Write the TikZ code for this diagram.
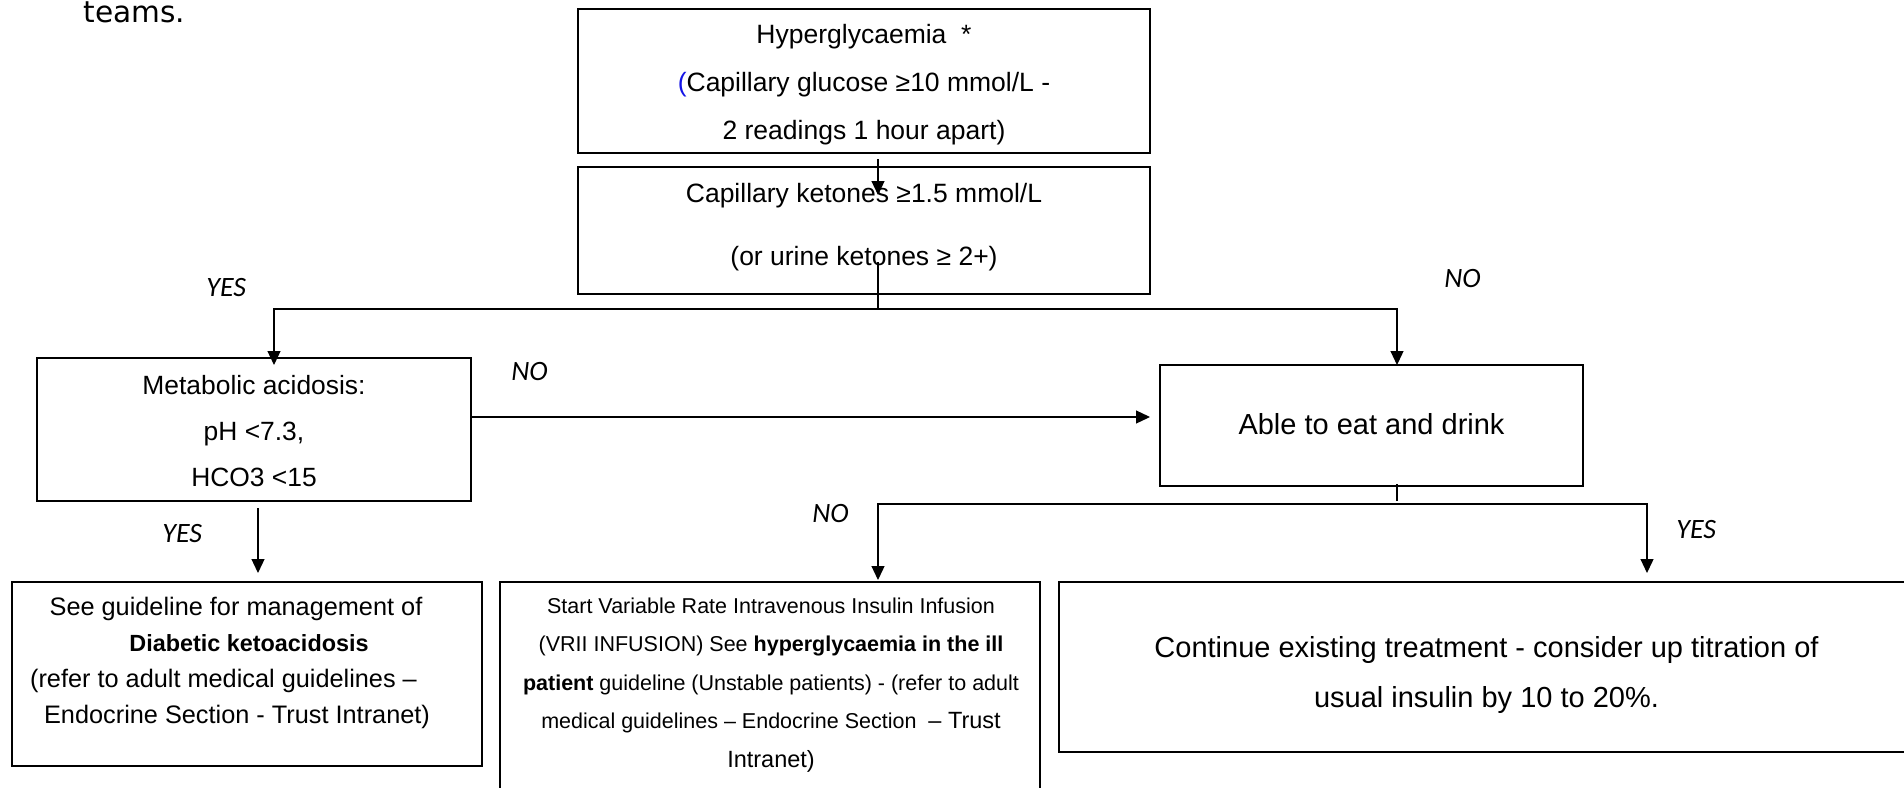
\documentclass[tikz,border=0pt]{standalone}
\usepackage{fontspec}
\setmainfont{Liberation Sans}
\newfontfamily\lblfont{Carlito}
\newfontfamily\docfont{DejaVu Sans}
\usetikzlibrary{arrows.meta}
\definecolor{hblue}{RGB}{20,20,230}
\newcommand{\tlines}[1]{\begin{tabular}[t]{@{}c@{}}#1\end{tabular}}
\begin{document}
\begin{tikzpicture}[x=0.5pt,y=-0.5pt,
  box/.style={draw, line width=0.72pt, rectangle, inner sep=0pt, outer sep=0pt},
  txt/.style={anchor=base, inner sep=0pt},
  lbl/.style={anchor=base west, inner sep=0pt, font=\lblfont\itshape\fontsize{14pt}{16pt}\selectfont},
  conn/.style={line width=0.62pt},
  arr/.style={line width=0.62pt, -{Triangle[width=6.5pt,length=7pt]}},
  arrboth/.style={line width=0.62pt, {Triangle[width=6.5pt,length=7pt]}-{Triangle[width=6.5pt,length=7pt]}},
]
\path[use as bounding box] (0,0) rectangle (1904,787);
\clip (0,0) rectangle (1904,787);

% document text above the chart
\node[anchor=base west, inner sep=0pt, font=\docfont\fontsize{14.8pt}{18pt}\selectfont] (teams) at (83,22) {teams.};

% boxes
\node[box, minimum width=286pt, minimum height=72pt] (hyp) at (864,81) {};
\node[box, minimum width=286pt, minimum height=63.5pt] (ket) at (864,230.5) {};
\node[box, minimum width=217pt, minimum height=71.5pt] (met) at (254,429.5) {};
\node[box, minimum width=211.5pt, minimum height=60.5pt] (able) at (1371.5,425.5) {};
\node[box, minimum width=235pt, minimum height=92pt] (dka) at (247,674) {};
\node[box, minimum width=270pt, minimum height=109pt] (vrii) at (770,691) {};
\node[box, minimum width=427.5pt, minimum height=85pt] (cont) at (1486.5,667) {};

% texts
\node[txt, font=\fontsize{13.25pt}{24pt}\selectfont] (hypT) at (864,43)
  {\tlines{Hyperglycaemia\ \ *\\{\color{hblue}(}Capillary glucose ≥10 mmol/L -\\2 readings 1 hour apart)}};
\node[txt, font=\fontsize{13.25pt}{31.5pt}\selectfont] (ketT) at (864,202)
  {\tlines{Capillary ketones ≥1.5 mmol/L\\(or urine ketones ≥ 2+)}};
\node[txt, font=\fontsize{13.2pt}{23pt}\selectfont] (metT) at (254,394)
  {\tlines{Metabolic acidosis:\\pH <7.3,\\HCO3 <15}};
\node[txt, font=\fontsize{14.5pt}{17pt}\selectfont] (ableT) at (1371.5,434)
  {Able to eat and drink};
\node[txt, font=\fontsize{12.65pt}{18pt}\selectfont] (dkaT) at (249,615)
  {\tlines{See guideline for management of\kern13pt\\{\fontsize{11.7pt}{18pt}\selectfont\bfseries Diabetic ketoacidosis}\\(refer to adult medical guidelines –\kern25.5pt\\Endocrine Section - Trust Intranet)\kern12pt}};
\node[txt, font=\fontsize{10.75pt}{19.25pt}\selectfont] (vriiT) at (771,613)
  {\tlines{Start Variable Rate Intravenous Insulin Infusion\\(VRII INFUSION) See \textbf{hyperglycaemia in the ill}\\\textbf{patient} guideline (Unstable patients) - (refer to adult\\medical guidelines – Endocrine Section\ \ {\fontsize{11.75pt}{19.25pt}\selectfont – Trust}\\{\fontsize{11.75pt}{19.25pt}\selectfont Intranet)}}};
\node[txt, font=\fontsize{14.5pt}{25pt}\selectfont] (contT) at (1486.5,657)
  {\tlines{Continue existing treatment - consider up titration of\\usual insulin by 10 to 20\%.}};

% labels
\node[lbl] (yes1) at (206,296) {YES};
\node[lbl] (no1) at (1444,287) {NO};
\node[lbl] (no2) at (511,380) {NO};
\node[lbl] (yes2) at (162,542) {YES};
\node[lbl] (no3) at (812,522) {NO};
\node[lbl] (yes3) at (1676,538) {YES};

% connector points
\coordinate (h1) at (878,159);
\coordinate (h2) at (878,195);
\coordinate (s1) at (878,262);
\coordinate (j1) at (878,309);
\coordinate (jl) at (274,309);
\coordinate (jr) at (1397,309);
\coordinate (mtip) at (274,365);
\coordinate (t1) at (1397,484);
\coordinate (t2) at (1397,501);
\coordinate (ll) at (878,504);
\coordinate (lr) at (1647,504);
\coordinate (vtip) at (878,580);
\coordinate (ctip) at (1647,573);
\coordinate (d1) at (258,508);
\coordinate (d2) at (258,573);

% connectors
\draw[arr] (h1) -- (h2);
\draw[conn] (s1) -- (j1);
\draw[arrboth] (mtip) -- (jl) -- (jr) -- (able.north -| jr);
\draw[arr] ([yshift=6.25pt]met.east) -- ++(679,0);
\draw[arr] (d1) -- (d2);
\draw[conn] (t1) -- (t2);
\draw[arrboth] (vtip) -- (ll) -- (lr) -- (ctip);
\end{tikzpicture}
\end{document}
